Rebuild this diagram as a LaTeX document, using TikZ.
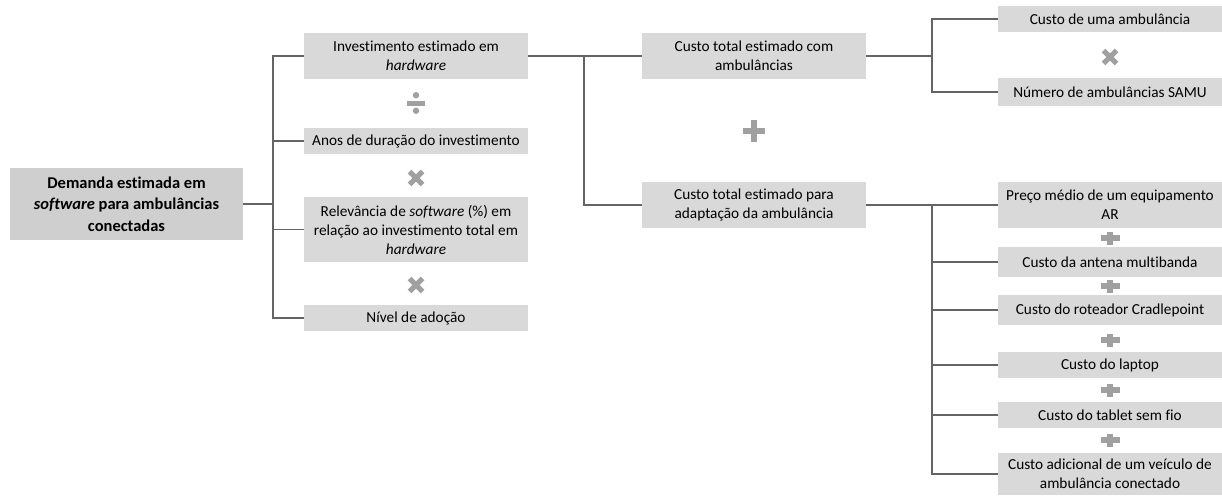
\documentclass[tikz,border=0pt]{standalone}
\usepackage{fontspec}
\setmainfont{Carlito}[Ligatures=NoCommon]
\usepackage{tikz}
\usetikzlibrary{calc}
\definecolor{BoxFill} {RGB}{217,217,217}
\definecolor{RootFill}{RGB}{207,207,207}
\definecolor{LnGray}  {RGB}{100,100,100}
\definecolor{OpGray}  {RGB}{160,160,160}
\tikzset{
  nd_root/.style={
    rectangle, fill=RootFill,
    minimum width=233pt, minimum height=72pt,
    align=center, inner sep=2pt,
    font=\fontsize{16.5}{21.5}\selectfont\bfseries},
  nd_box/.style={
    rectangle, fill=BoxFill,
    minimum width=224pt, minimum height=26pt,
    align=center, inner sep=1pt,
    font=\fontsize{15.3}{19}\selectfont},
  lnk/.style={draw=LnGray, line width=1.4pt},
  pics/op_plus/.style 2 args={code={
    \fill[OpGray] (-#1,-2.6) rectangle (#1,2.6);
    \fill[OpGray] (-2.6,-#2) rectangle (2.6,#2);}},
  pics/op_times/.style={code={
    \draw[OpGray,line width=5pt] (-6.5,-6.5)--(6.5,6.5) (-6.5,6.5)--(6.5,-6.5);}},
  pics/op_div/.style={code={
    \fill[OpGray] (-9,-2.5) rectangle (9,2.5);
    \fill[OpGray] (0,-7.8) circle [radius=3.2pt] (0,7.8) circle [radius=3.2pt];}},
}

\begin{document}
\begin{tikzpicture}[x=1pt,y=-1pt]
\useasboundingbox (0,0) rectangle (1222,495);

%% column centres
\def\Cb{416} \def\Cc{754} \def\Cd{1110}

%% ── root ────────────────────────────────────────────────────
\node[nd_root] at (126.5,204) (R){Demanda estimada em\\\textit{software} para ambulâncias\\conectadas};

%% ── column 2 ────────────────────────────────────────────────
\node[nd_box,minimum height=46pt] at (\Cb,56)    (H1){Investimento estimado em\\\textit{hardware}};
\node[nd_box]                     at (\Cb,141)   (H2){Anos de duração do investimento};
\node[nd_box,minimum height=65pt] at (\Cb,229.5) (H3){Relevância de \textit{software} (\%) em\\relação ao investimento total em\\\textit{hardware}};
\node[nd_box]                     at (\Cb,318)   (H4){Nível de adoção};

\pic at (\Cb,103) {op_div};
\pic at (\Cb,178) {op_times};
\pic at (\Cb,285) {op_times};

%% ── column 3 ────────────────────────────────────────────────
\node[nd_box,minimum height=46pt] at (\Cc,56)  (C1){Custo total estimado com\\ambulâncias};
\node[nd_box,minimum height=46pt] at (\Cc,205) (C2){Custo total estimado para\\adaptação da ambulância};

\pic at (\Cc,131) {op_plus={11}{11}};

%% ── column 4 ────────────────────────────────────────────────
\node[nd_box]                     at (\Cd,19)  (A1){Custo de uma ambulância};
\node[nd_box,minimum height=28pt] at (\Cd,92)  (A2){Número de ambulâncias SAMU};

\node[nd_box,minimum height=46pt] at (\Cd,205) (B1){Preço médio de um equipamento\\AR};
\node[nd_box,minimum height=30pt] at (\Cd,262) (B2){Custo da antena multibanda};
\node[nd_box,minimum height=30pt] at (\Cd,310) (B3){Custo do roteador Cradlepoint};
\node[nd_box]                     at (\Cd,365) (B4){Custo do laptop};
\node[nd_box]                     at (\Cd,415) (B5){Custo do tablet sem fio};
\node[nd_box,minimum height=42pt] at (\Cd,474) (B6){Custo adicional de um veículo de\\ambulância conectado};

\pic at (\Cd,57) {op_times};
\foreach \y in {238,286,340,390,440}
  \pic at (\Cd,\y) {op_plus={9.5}{6.5}};

%% ── connectors ──────────────────────────────────────────────
\coordinate (J1) at (273,204);
\coordinate (J2) at (584,56);
\coordinate (J3) at (932,56);
\coordinate (J4) at (932,205);

\draw[lnk] (R.east)--(J1);
\foreach \n in {H1,H2,H3,H4}
  \draw[lnk] (J1) |- (\n.west);

\draw[lnk] (H1.east)--(C1.west);
\draw[lnk] (J2) |- (C2.west);

\draw[lnk] (C1.east)--(J3);
\draw[lnk] (J3) |- (A1.west);
\draw[lnk] (J3) |- (A2.west);

\draw[lnk] (C2.east)--(B1.west);
\foreach \n in {B2,B3,B4,B5,B6}
  \draw[lnk] (J4) |- (\n.west);

\end{tikzpicture}
\end{document}
